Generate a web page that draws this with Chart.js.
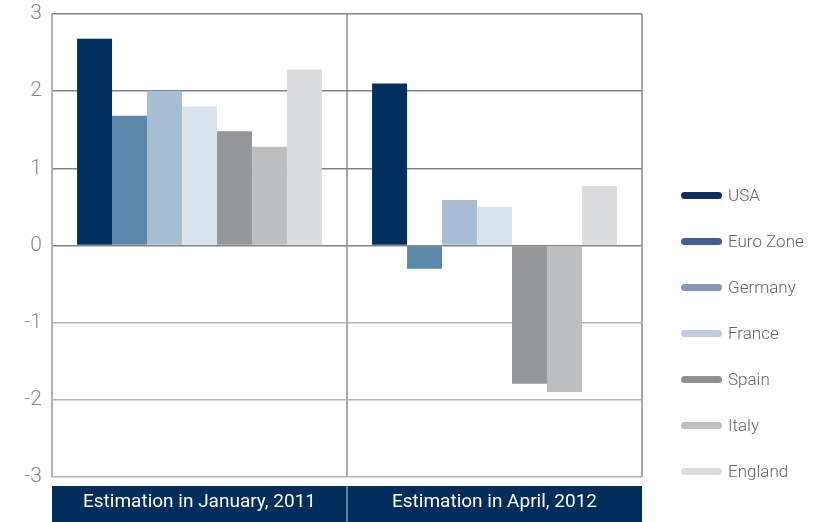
<!DOCTYPE html>
<html>
<head>
<meta charset="utf-8">
<script src="https://cdn.jsdelivr.net/npm/chart.js@4/dist/chart.umd.min.js"></script>
<style>
  html, body { margin: 0; padding: 0; background: #fff; }
  #wrap { position: relative; width: 816px; height: 522px; }
  #legend { position: absolute; left: 681px; top: 184px; font-family: Roboto, "Open Sans", sans-serif; font-weight: 300; font-size: 17px; color: #666; }
  .item { height: 23px; line-height: 23px; margin-bottom: 23px; white-space: nowrap; }
  .swatch { display: inline-block; width: 41px; height: 7px; border-radius: 4px; vertical-align: middle; margin-right: 6px; position: relative; top: -1px; }
</style>
</head>
<body>
<div id="wrap">
  <canvas id="chart" width="816" height="522"></canvas>
  <div id="legend"></div>
</div>
<script>
const periods = ['Estimation in January, 2011', 'Estimation in April, 2012'];
const regions = ['USA', 'Euro Zone', 'Germany', 'France', 'Spain', 'Italy', 'England'];
const jan2011 = [2.68, 1.68, 2.0, 1.8, 1.48, 1.28, 2.28];
const apr2012 = [2.1, -0.3, 0.59, 0.5, -1.79, -1.9, 0.77];
const yTicks = [3, 2, 1, 0, -1, -2, -3];

const barColors = ['#012e5c', '#5b87aa', '#a7bed2', '#d9e3ec', '#96979b', '#bdbec0', '#dbdcde'];
const legendColors = ['#0c2f5e', '#3f6090', '#8499ba', '#c0cbe0', '#8f9094', '#bdbec0', '#dcdde0'];

// navy label strip under the plot, split at each category boundary
const labelStrip = {
  id: 'labelStrip',
  beforeDraw(chart) {
    const { ctx, chartArea, scales } = chart;
    const top = chartArea.bottom + 9;
    ctx.save();
    ctx.fillStyle = '#012d5d';
    ctx.fillRect(chartArea.left, top, chartArea.right - chartArea.left, chart.height - top);
    ctx.strokeStyle = '#7e98b8';
    ctx.lineWidth = 1.5;
    for (let i = 1; i < periods.length; i++) {
      const x = (scales.x.getPixelForValue(i - 1) + scales.x.getPixelForValue(i)) / 2;
      ctx.beginPath();
      ctx.moveTo(x, top);
      ctx.lineTo(x, chart.height);
      ctx.stroke();
    }
    ctx.restore();
  }
};

const datasets = regions.map((name, i) => ({
  label: name,
  data: [jan2011[i], apr2012[i]],
  backgroundColor: barColors[i],
  borderWidth: 0
}));

new Chart(document.getElementById('chart'), {
  type: 'bar',
  data: { labels: periods, datasets },
  options: {
    responsive: false,
    animation: false,
    layout: { padding: { top: 0, right: 174, left: 0, bottom: 0 } },
    categoryPercentage: 0.83,
    barPercentage: 1,
    plugins: { legend: { display: false }, tooltip: { enabled: false } },
    scales: {
      x: {
        grid: { color: '#a8a8a8', lineWidth: 2, drawTicks: false },
        border: { display: false },
        ticks: { color: '#fff', padding: 14, font: { family: 'Roboto, "Open Sans", sans-serif', size: 19 } },
        afterFit(scale) { scale.height = 45; }
      },
      y: {
        min: -3,
        max: 3,
        afterBuildTicks(scale) { scale.ticks = yTicks.map(v => ({ value: v })); },
        grid: {
          color: c => (c.tick && c.tick.value >= 0 ? '#858585' : '#b5b5b5'),
          lineWidth: 1.5,
          drawTicks: false
        },
        border: { color: '#b0b0b0', width: 2 },
        ticks: { color: '#8a8a8a', padding: 10, font: { family: 'Roboto, "Open Sans", sans-serif', size: 21, weight: 300 } },
        afterFit(scale) { scale.width = 52; scale.paddingTop = 14; scale.paddingBottom = 0; }
      }
    }
  },
  plugins: [labelStrip]
});

const legend = document.getElementById('legend');
regions.forEach((name, i) => {
  const row = document.createElement('div');
  row.className = 'item';
  row.innerHTML = `<span class="swatch" style="background:${legendColors[i]}"></span>${name}`;
  legend.appendChild(row);
});
</script>
</body>
</html>
